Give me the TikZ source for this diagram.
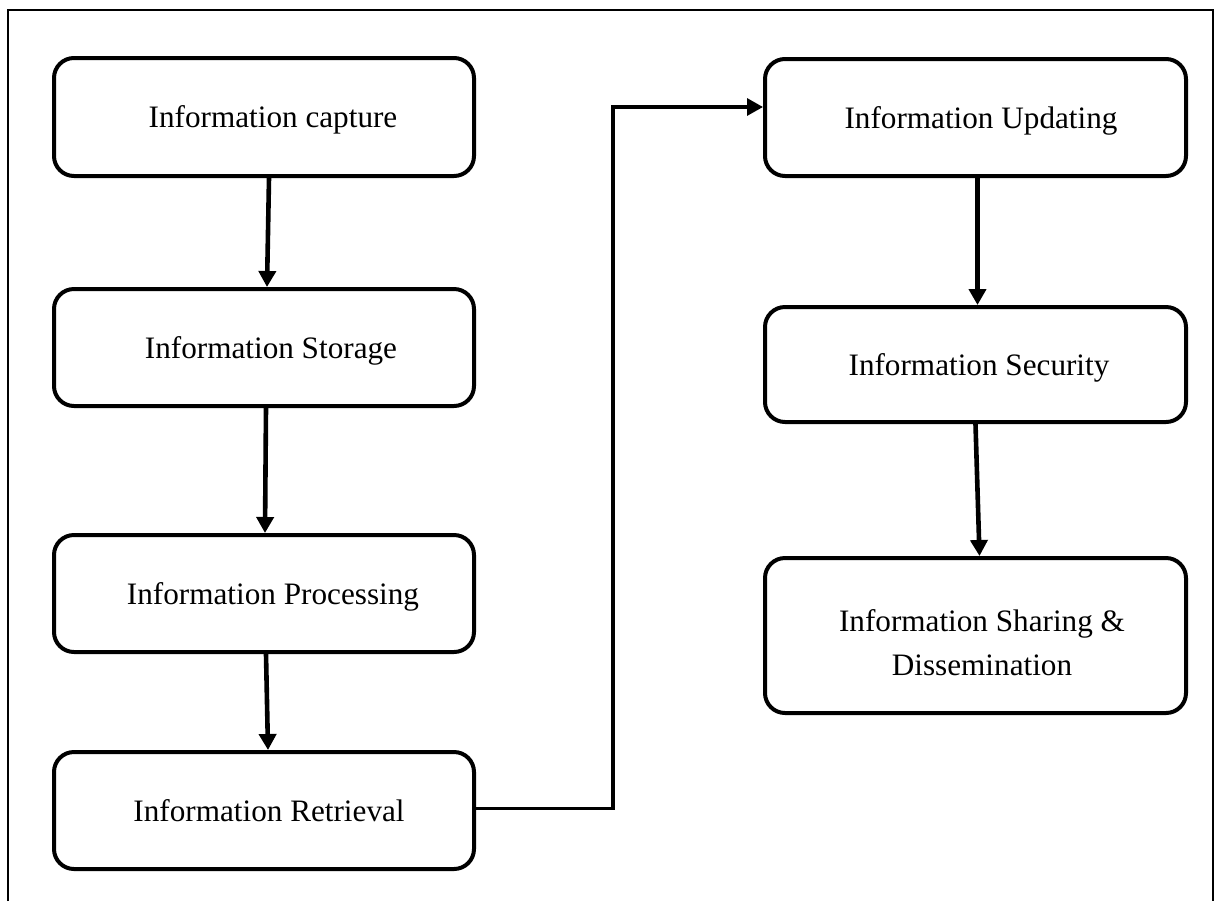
\documentclass[tikz,border=0pt]{standalone}
\usepackage{fontspec}
\setmainfont{Liberation Serif}
\usetikzlibrary{arrows.meta}
\begin{document}
\begin{tikzpicture}[x=0.5pt,y=-0.5pt,
  stagebox/.style={draw, line width=2pt, rounded corners=10pt, align=center,
    font=\fontsize{15.6}{22}\selectfont, inner sep=0pt, text depth=0pt},
  flow/.style={line width=2.3pt, -{Triangle[length=8pt,width=8.5pt]}},
  link/.style={line width=1.6pt, -{Triangle[length=8pt,width=8.5pt]}}]
  \useasboundingbox (0,0) rectangle (1221,901);
  % open-bottomed frame
  \draw[line width=1pt] (8,901) -- (8,10) -- (1213,10) -- (1213,901);

  % left column
  \node[stagebox, minimum width=210pt, minimum height=59pt] (cap) at (264,117) {\hspace*{9pt}Information capture};
  \node[stagebox, minimum width=210pt, minimum height=58.5pt] (sto) at (264,347.5) {\hspace*{7pt}Information Storage};
  \node[stagebox, minimum width=210pt, minimum height=58.5pt] (pro) at (264,593.5) {\hspace*{9pt}Information Processing};
  \node[stagebox, minimum width=210pt, minimum height=58.5pt] (ret) at (264,810.5) {\hspace*{5pt}Information Retrieval};

  % right column
  \node[stagebox, minimum width=210.5pt, minimum height=58.5pt] (upd) at (975.5,117.5) {\hspace*{5.5pt}Information Updating};
  \node[stagebox, minimum width=210.5pt, minimum height=57.5pt] (sec) at (975.5,364.5) {\hspace*{3.5pt}Information Security};
  \node[stagebox, minimum width=210.5pt, minimum height=77.5pt] (sha) at (975.5,635.5) {\rule{0pt}{18pt}\hspace*{6.5pt}Information Sharing \&\\\hspace*{6.5pt}Dissemination};

  % vertical flow arrows
  \draw[flow] ([xshift=2.5pt]cap.south) -- ([xshift=1.5pt]sto.north);
  \draw[flow] ([xshift=1pt]sto.south) -- ([xshift=0.5pt]pro.north);
  \draw[flow] ([xshift=1pt]pro.south) -- ([xshift=2pt]ret.north);
  \draw[flow] ([xshift=1pt]upd.south) -- ([xshift=1pt]sec.north);
  \draw[flow] (sec.south) -- ([xshift=2pt]sha.north);

  % elbow link between the columns
  \coordinate (bend) at (613,107);
  \draw[link] ([yshift=1pt]ret.east) -| (bend) -- (bend -| upd.west);
\end{tikzpicture}
\end{document}
